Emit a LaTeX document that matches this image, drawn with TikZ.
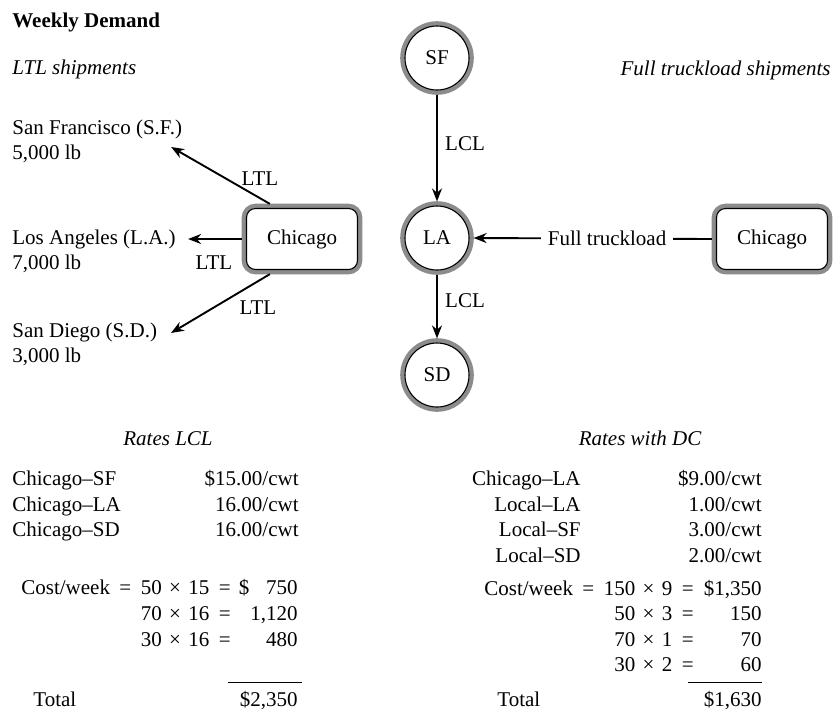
\documentclass[tikz,border=0pt]{standalone}
\usepackage{fontspec}
\setmainfont{Liberation Serif}
\usetikzlibrary{arrows.meta}
\AtBeginDocument{\fontsize{10.5}{12.5}\selectfont}

\newcommand{\ceq}{\hspace{.45em}=\hspace{.45em}}
\newcommand{\ceqend}{\hspace{.45em}=}
\newcommand{\cby}{\hspace{.35em}×\hspace{.35em}}

\begin{document}
\begin{tikzpicture}[x=0.5pt, y=-0.5pt,
  city/.style={circle, draw, line width=0.55pt, fill=white, minimum size=32pt,
               inner sep=0pt, outer sep=2.3pt,
               preaction={draw=black!45, line width=4.8pt}},
  depot/.style={rectangle, rounded corners=4.5pt, draw, line width=0.55pt, fill=white,
                minimum width=55.5pt, minimum height=30.5pt, outer sep=2.3pt,
                preaction={draw=black!45, line width=4.8pt}},
  flow/.style={-{Stealth[length=6.5pt,width=5pt]}, line width=0.95pt},
  cell/.style={inner sep=0pt, text height=7pt, text depth=0pt},
  demand/.style={inner sep=0pt, align=left, anchor=west}
]
  \useasboundingbox (0,0) rectangle (834,709);

  \node[cell, anchor=west, font=\bfseries] (title) at (12,20) {Weekly Demand};
  \node[cell, anchor=west, font=\itshape] (ltlhead) at (12,67) {LTL shipments};
  \node[cell, anchor=east, font=\itshape] (ftlhead) at (831,68) {Full truckload shipments};

  % LTL from Chicago
  \node[depot] (chil) at (302,239) {Chicago};
  \node[demand] (sfdem) at (12,141) {San Francisco (S.F.)\\5,000 lb};
  \node[demand] (ladem) at (12,251) {Los Angeles (L.A.)\\7,000 lb};
  \node[demand] (sddem) at (12,344) {San Diego (S.D.)\\3,000 lb};

  \draw[flow] ([xshift=14pt]chil.north west) -- ([shift={(-11.5,6)}]sfdem.east);
  \draw[flow] (chil.west) -- ([shift={(12,-12)}]ladem.east);
  \draw[flow] ([xshift=14pt]chil.south west) -- ([shift={(13.5,-11)}]sddem.east);
  \node[cell] (ltl1) at (260,178) {LTL};
  \node[cell] (ltl2) at (214,262) {LTL};
  \node[cell] (ltl3) at (258,307) {LTL};

  % truckload to the DC at LA
  \node[city] (sf) at (437,58) {SF};
  \node[city] (la) at (437,238) {LA};
  \node[city] (sd) at (437,375) {SD};
  \node[depot] (chr) at (772,239) {Chicago};

  \draw[flow] (sf) -- (la);
  \draw[flow] (la) -- (sd);
  \draw[flow] (chr.west) -- node[pos=0.44, fill=white, inner sep=3.5pt] (ftl) {Full truckload} (la.east);
  \node[cell] (lcl1) at (465,143) {LCL};
  \node[cell] (lcl2) at (465,300) {LCL};

  % rates LCL
  \node[cell, font=\itshape] (rlcl) at (168,438) {Rates LCL};
  \node[cell, anchor=west] (l1) at (12,478) {Chicago–SF};
  \node[cell, anchor=west] (l2) at (12,504) {Chicago–LA};
  \node[cell, anchor=west] (l3) at (12,529) {Chicago–SD};
  \node[cell, anchor=east] (v1) at (299,478) {\$15.00/cwt};
  \node[cell, anchor=east] (v2) at (299,504) {16.00/cwt};
  \node[cell, anchor=east] (v3) at (299,529) {16.00/cwt};

  \node[cell, anchor=east] (c1) at (231,587) {Cost/week\ceq 50\cby 15\ceqend};
  \node[cell, anchor=east] (c2) at (231,613) {70\cby 16\ceqend};
  \node[cell, anchor=east] (c3) at (231,639) {30\cby 16\ceqend};
  \node[cell, anchor=east] (cv1) at (298,587) {\$\hspace{.8em}750};
  \node[cell, anchor=east] (cv2) at (298,613) {1,120};
  \node[cell, anchor=east] (cv3) at (298,639) {480};
  \draw[line width=0.5pt] (228,682) -- (302,682);
  \node[cell, anchor=west] (tl) at (33,699) {Total};
  \node[cell, anchor=east] (tlv) at (298,699) {\$2,350};

  % rates with DC
  \node[cell, font=\itshape] (rdc) at (640,438) {Rates with DC};
  \node[cell, anchor=east] (d1) at (581,478) {Chicago–LA};
  \node[cell, anchor=east] (d2) at (581,504) {Local–LA};
  \node[cell, anchor=east] (d3) at (581,529) {Local–SF};
  \node[cell, anchor=east] (d4) at (581,555) {Local–SD};
  \node[cell, anchor=east] (w1) at (762,478) {\$9.00/cwt};
  \node[cell, anchor=east] (w2) at (762,504) {1.00/cwt};
  \node[cell, anchor=east] (w3) at (762,529) {3.00/cwt};
  \node[cell, anchor=east] (w4) at (762,555) {2.00/cwt};

  \node[cell, anchor=east] (e1) at (694,588) {Cost/week\ceq 150\cby 9\ceqend};
  \node[cell, anchor=east] (e2) at (694,613) {50\cby 3\ceqend};
  \node[cell, anchor=east] (e3) at (694,639) {70\cby 1\ceqend};
  \node[cell, anchor=east] (e4) at (694,664) {30\cby 2\ceqend};
  \node[cell, anchor=east] (ev1) at (762,588) {\$1,350};
  \node[cell, anchor=east] (ev2) at (762,613) {150};
  \node[cell, anchor=east] (ev3) at (762,639) {70};
  \node[cell, anchor=east] (ev4) at (762,664) {60};
  \draw[line width=0.5pt] (688,682) -- (762,682);
  \node[cell, anchor=west] (tr) at (497,699) {Total};
  \node[cell, anchor=east] (trv) at (762,699) {\$1,630};
\end{tikzpicture}
\end{document}
